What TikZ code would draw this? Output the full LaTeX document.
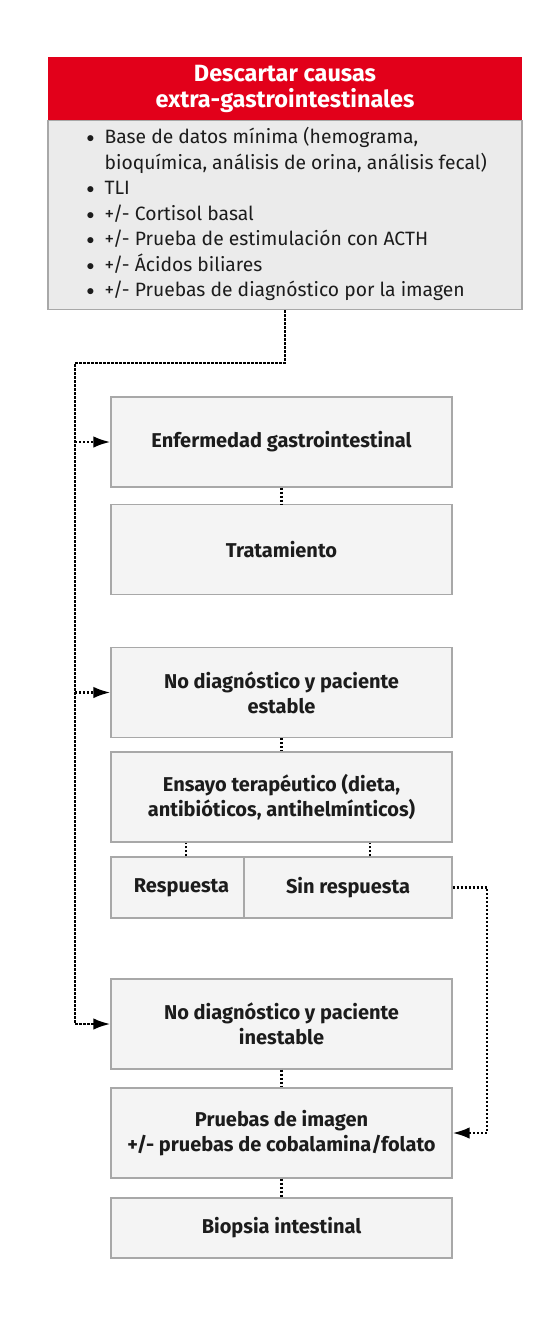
\documentclass[tikz,border=0pt]{standalone}
\usepackage{fontspec}
\setmainfont{Fira Sans}
\usetikzlibrary{positioning,calc,arrows.meta}
\definecolor{hdred}{HTML}{E2001A}
\definecolor{boxgray}{HTML}{F4F4F4}
\definecolor{listgray}{HTML}{EBEBEB}
\definecolor{edgegray}{HTML}{A8A8A8}
\definecolor{ink}{HTML}{1C1C1C}
\tikzset{>={Latex[length=17pt,width=11.5pt]},
  box/.style={draw=edgegray,fill=boxgray,line width=1.2pt,minimum width=341pt,
    minimum height=90pt,align=center,text=ink,
    font=\bfseries\fontsize{20}{25}\selectfont},
  header/.style={fill=hdred,minimum width=474pt,minimum height=63pt,align=center,
    text=white,font=\bfseries\fontsize{23.5}{26}\selectfont},
  listbox/.style={draw=edgegray,fill=listgray,line width=1.2pt,minimum width=474pt,
    minimum height=189pt},
  items/.style={inner sep=0pt,align=left,text=ink,font=\fontsize{19.3}{25.5}\selectfont},
  dots/.style={draw=black,line width=2.5pt,dash pattern=on 2.2pt off 1.8pt}}
\newcommand\itm{\makebox[18pt][l]{\raisebox{1pt}{\scalebox{0.75}{$\bullet$}}}}
\begin{document}
\begin{tikzpicture}[x=1pt,y=-1pt]
\useasboundingbox (0,0) rectangle (558,1320);
\node[header] (head) at (285,88.5) {Descartar causas\\extra-gastrointestinales};
\node[listbox,anchor=north] (list) at (head.south) {};
\node[items,anchor=west] (itemlist) at ([xshift=39pt,yshift=1pt]list.west) {%
\itm Base de datos mínima (hemograma,\\
\hspace*{18pt}bioquímica, análisis de orina, análisis fecal)\\
\itm TLI\\
\itm +/- Cortisol basal\\
\itm +/- Prueba de estimulación con ACTH\\
\itm +/- Ácidos biliares\\
\itm +/- Pruebas de diagnóstico por la imagen};
\node[box] (enf) at (281.5,442) {Enfermedad gastrointestinal};
\node[box] (trat) at (281.5,549.5) {Tratamiento};
\node[box] (estab) at (281.5,692.5) {No diagnóstico y paciente\\estable};
\node[box] (ensayo) at (281.5,797) {Ensayo terapéutico (dieta,\\antibióticos, antihelmínticos)};
\node[box,minimum width=133pt,minimum height=61pt] (resp) at (177.5,887.5) {\hspace*{8pt}Respuesta};
\node[box,minimum width=208pt,minimum height=61pt] (sinr) at (348,887.5) {Sin respuesta};
\node[box] (inest) at (281.5,1024) {No diagnóstico y paciente\\inestable};
\node[box] (pruebas) at (281.5,1133) {Pruebas de imagen\\+/- pruebas de cobalamina/folato};
\node[box,minimum height=60pt] (biopsia) at (281.5,1228) {Biopsia intestinal};
\coordinate (turn) at (75,363);
\coordinate (rturn) at (487,887.5);
% left branch
\draw[dots,->] (list.south) |- (turn) |- (inest.west);
\draw[dots,->] (turn |- enf.west) -- (enf.west);
\draw[dots,->] (turn |- estab.west) -- (estab.west);
% steps
\draw[dots] (enf) -- (trat);
\draw[dots] (estab) -- (ensayo);
\draw[dots] ([xshift=8.5pt]resp.north) -- ([xshift=8.5pt]resp.north |- ensayo.south);
\draw[dots] ([xshift=22pt]sinr.north) -- ([xshift=22pt]sinr.north |- ensayo.south);
\draw[dots] (inest) -- (pruebas);
\draw[dots] (pruebas) -- (biopsia);
% right branch
\draw[dots,->] (sinr.east) -- (rturn) |- (pruebas.east);
\end{tikzpicture}
\end{document}
